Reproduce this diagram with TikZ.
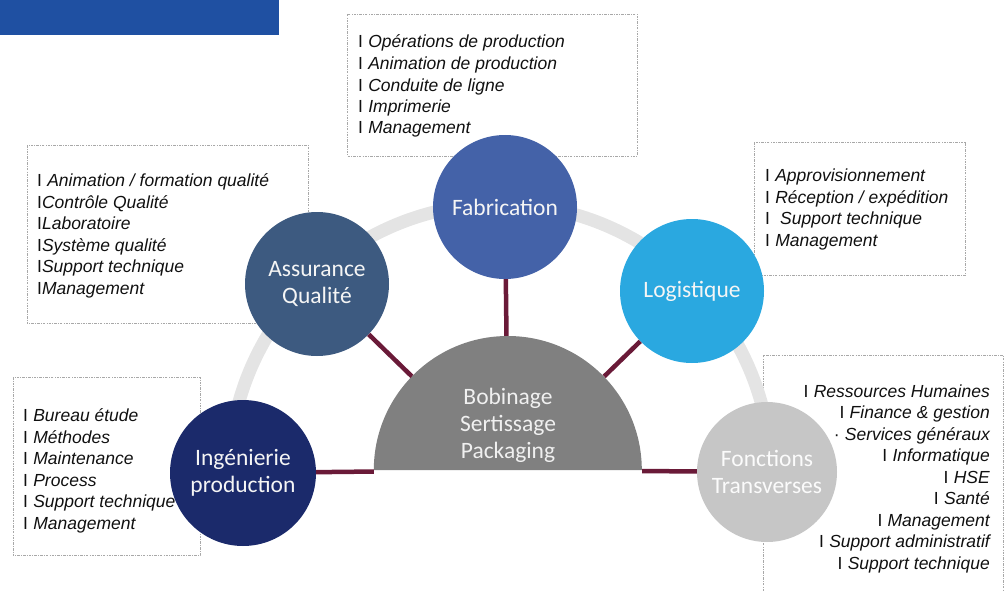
\documentclass[tikz,border=0pt]{standalone}
\usepackage{fontspec}
\setmainfont{Liberation Sans}
\newfontfamily\unitfont{Carlito}
\usetikzlibrary{positioning}

\definecolor{barblue}{HTML}{1F50A2}
\definecolor{fabblue}{HTML}{4462A8}
\definecolor{aqblue}{HTML}{3D5A80}
\definecolor{logblue}{HTML}{2AA8E0}
\definecolor{ingblue}{HTML}{1B2A6B}
\definecolor{fctgray}{HTML}{C6C6C6}
\definecolor{hubgray}{HTML}{808080}
\definecolor{ringgray}{HTML}{E4E4E4}
\definecolor{linkred}{HTML}{6A1A38}
\definecolor{framegray}{HTML}{A8A8A8}
\definecolor{listtext}{HTML}{101010}

% vertical bar in front of every task
\newcommand\itemmark{\textup{I}\hspace{0.3em}}

\begin{document}
\begin{tikzpicture}[x=1pt,y=1pt,yscale=-1,
  unit/.style={circle, inner sep=0pt, minimum size=144pt, align=center,
    text=white!92!gray, font=\unitfont\fontsize{23.5}{27}\selectfont},
  tasks/.style={inner sep=0pt, align=left, text=listtext,
    font=\itshape\fontsize{17.5}{21.5}\selectfont},
  frame/.style={draw=framegray, line width=0.7pt,
    dash pattern=on 2.5pt off 1.2pt on 0.8pt off 1.2pt},
  link/.style={draw=linkred, line width=4.5pt},
]
\useasboundingbox (0,0) rectangle (1006,591);

% banner
\fill[barblue] (0,0) rectangle (279,35);

% dotted frames round the task lists
\draw[frame] (347,14) rectangle (637,156);
\draw[frame] (27,145) rectangle (308,323);
\draw[frame] (754,142) rectangle (965,275);
\draw[frame] (13,377) rectangle (200,555);
\draw[frame] (763,591) -- (763,355) -- (1003,355) -- (1003,591);

% task lists (base = baseline of the last line)
\node[tasks, anchor=base west] (fablist) at (358,134) {%
  \itemmark Opérations de production\\
  \itemmark Animation de production\\
  \itemmark Conduite de ligne\\
  \itemmark Imprimerie\\
  \itemmark Management};
\node[tasks, anchor=base west] (aqlist) at (37,294) {%
  \itemmark Animation / formation qualité\\
  \textup{I}Contrôle Qualité\\
  \textup{I}Laboratoire\\
  \textup{I}Système qualité\\
  \textup{I}Support technique\\
  \textup{I}Management};
\node[tasks, anchor=base west] (loglist) at (765,246) {%
  \itemmark Approvisionnement\\
  \itemmark Réception / expédition\\
  \itemmark\ Support technique\\
  \itemmark Management};
\node[tasks, anchor=base west] (inglist) at (23,529) {%
  \itemmark Bureau étude\\
  \itemmark Méthodes\\
  \itemmark Maintenance\\
  \itemmark Process\\
  \itemmark Support technique\\
  \itemmark Management};
\node[tasks, align=right, anchor=base east] (fctlist) at (990,569) {%
  \itemmark Ressources Humaines\\
  \itemmark Finance \& gestion\\
  \textup{·}\hspace{0.3em}Services généraux\\
  \itemmark Informatique\\
  \itemmark HSE\\
  \itemmark Santé\\
  \itemmark Management\\
  \itemmark Support administratif\\
  \itemmark Support technique};

% grey ring behind the units
\draw[ringgray, line width=13pt] (229,475) arc[start angle=180, end angle=360, radius=271];

% central half disc
\node[circle, minimum size=268pt, inner sep=0pt] (hub) at (508,470) {};
\fill[hubgray] (hub.west) arc[start angle=180, end angle=360, radius=134] -- cycle;
\node[align=center, text=white!88!gray, font=\unitfont\fontsize{23.5}{27}\selectfont]
  (hublabel) at (508,425) {Bobinage\\Sertissage\\Packaging};

% units
\node[unit, fill=fabblue] (fab) at (505,207) {Fabrication};
\node[unit, fill=aqblue] (aq) at (317,284) {Assurance\\Qualité};
\node[unit, fill=logblue] (log) at (692,291) {Logistique};
\node[unit, fill=ingblue, minimum size=146pt] (ing) at (243,473) {Ingénierie\\production};
\node[unit, fill=fctgray, minimum size=140pt, text=white!97!gray] (fct) at (767,472) {Fonctions\\Transverses};

% links to the half disc
\draw[link] (hub) -- (fab);
\draw[link] (hub) -- (aq);
\draw[link] (hub) -- (log);
\draw[link] (hub) -- (ing);
\draw[link] (hub) -- (fct);
\end{tikzpicture}
\end{document}
